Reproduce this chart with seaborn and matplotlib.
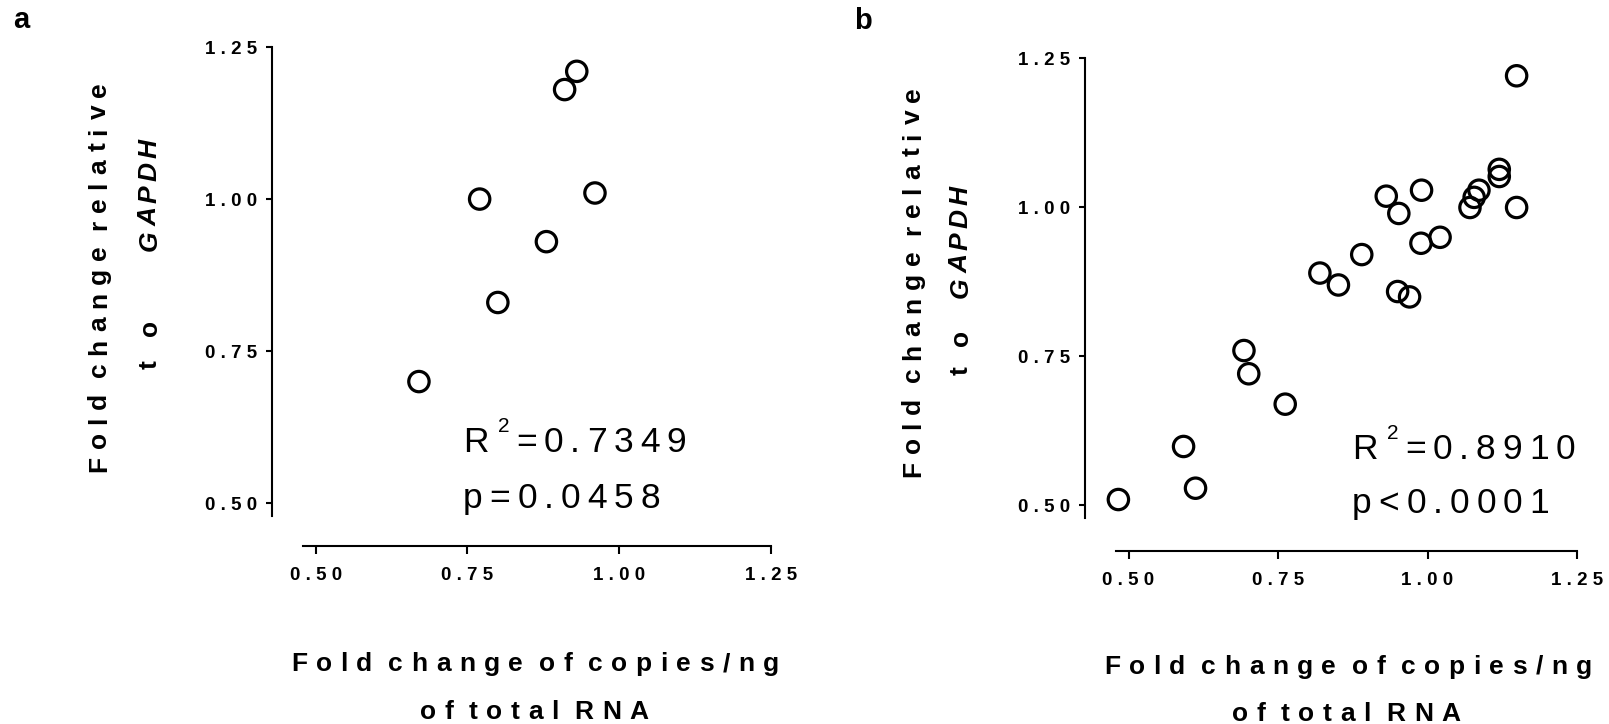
import matplotlib
matplotlib.use("Agg")
import matplotlib.pyplot as plt
import seaborn as sns
import pandas as pd
from matplotlib.font_manager import FontProperties, findfont, get_font

try:
    from matplotlib.ft2font import LoadFlags
    NOHINT = LoadFlags.NO_HINTING
except Exception:
    NOHINT = 2

# ---------------- data ----------------
a_copies = [0.93, 0.91, 0.77, 0.96, 0.88, 0.80, 0.67]
a_gapdh = [1.21, 1.18, 1.00, 1.01, 0.93, 0.83, 0.70]

b_copies = [1.149, 1.120, 1.120, 1.086, 1.078, 1.071, 1.149, 0.990, 0.931, 0.952,
            1.021, 0.989, 0.890, 0.820, 0.851, 0.950, 0.970, 0.693, 0.701, 0.762,
            0.592, 0.612, 0.483]
b_gapdh = [1.221, 1.064, 1.052, 1.029, 1.017, 1.000, 1.000, 1.029, 1.019, 0.990,
           0.950, 0.940, 0.921, 0.890, 0.870, 0.859, 0.850, 0.760, 0.721, 0.670,
           0.599, 0.529, 0.510]

tick_values = [0.50, 0.75, 1.00, 1.25]
tick_labels = ["0.50", "0.75", "1.00", "1.25"]

a_r2 = "=0.7349"
a_p = "p=0.0458"
b_r2 = "=0.8910"
b_p = "p<0.0001"

xlab1 = "Fold change of copies/ng"
xlab2 = "of total RNA"
ylab1 = "Fold change relative"
ylab_to = "to"
gene = "GAPDH"

# ---------------- style ----------------
sns.set_style("ticks")
plt.rcParams["font.family"] = ["Liberation Sans", "DejaVu Sans"]
for k in ["text.color", "axes.labelcolor", "xtick.color", "ytick.color", "axes.edgecolor"]:
    plt.rcParams[k] = "black"

W, H = 1609, 724
fig = plt.figure(figsize=(W / 100, H / 100), dpi=100)
fig.patch.set_facecolor("white")

FAM = ["Liberation Sans", "DejaVu Sans"]
LAB_SIZE = 19
lab_bold = FontProperties(family=FAM, weight="bold", size=LAB_SIZE)
lab_bi = FontProperties(family=FAM, weight="bold", style="italic", size=LAB_SIZE)
stat_fp = FontProperties(family=FAM, weight="normal", size=25.5)
sup_fp = FontProperties(family=FAM, weight="normal", size=15)
panel_fp = FontProperties(family=FAM, weight="bold", size=21)


def adv_px(ch, prop):
    font = get_font(findfont(prop))
    font.set_size(prop.get_size_in_points(), 100)
    g = font.load_char(ord(ch), flags=NOHINT)
    return g.linearHoriAdvance / 65536.0


def chars_of(s, prop):
    return [(c, prop) for c in s]


def track_for(chars, span):
    advs = [adv_px(c, p) for c, p in chars]
    gaps = sum(1 for i in range(len(chars) - 1) if chars[i][0] != " ")
    return (span - sum(advs)) / gaps


def run(chars, start, cross, track, vertical=False):
    pos = 0.0
    for c, p in chars:
        a = adv_px(c, p)
        if c != " ":
            if vertical:
                x, y = cross, start - pos
                rot = 90
            else:
                x, y = start + pos, cross
                rot = 0
            fig.text(x / W, 1 - y / H, c, fontproperties=p, rotation=rot,
                     rotation_mode="anchor", ha="left", va="baseline", color="black")
            pos += a + track
        else:
            pos += a
    return pos


def run_span(chars, start, end, cross, vertical=False):
    t = track_for(chars, abs(end - start))
    run(chars, start, cross, t, vertical)


def run_centered(chars, center, cross, track):
    advs = [adv_px(c, p) for c, p in chars]
    gaps = sum(1 for i in range(len(chars) - 1) if chars[i][0] != " ")
    total = sum(advs) + gaps * track
    run(chars, center - total / 2, cross, track)


def make_ax(left, top, right, bottom):
    return fig.add_axes([left / W, 1 - bottom / H, (right - left) / W, (bottom - top) / H])


def spaced(s, sep=" "):
    return sep.join(list(s))


def setup(ax, x, y, off_l, off_b):
    df = pd.DataFrame({"x": x, "y": y})
    sns.scatterplot(data=df, x="x", y="y", ax=ax, marker="o", s=215,
                    facecolors="none", edgecolor="black", linewidth=2.3,
                    clip_on=False, legend=False, zorder=3)
    for coll in ax.collections:
        coll.set_facecolor("none")
    ax.set_xlim(0.479, 1.25)
    ax.set_ylim(0.479, 1.25)
    ax.patch.set_alpha(0)
    for s in ["top", "right"]:
        ax.spines[s].set_visible(False)
    ax.spines["left"].set_position(("outward", off_l))
    ax.spines["bottom"].set_position(("outward", off_b))
    for s in ["left", "bottom"]:
        ax.spines[s].set_linewidth(1.5)
        ax.spines[s].set_color("black")
    ax.set_xticks(tick_values)
    ax.set_yticks(tick_values)
    ax.set_xticklabels([spaced(t) for t in tick_labels])
    ax.set_yticklabels([spaced(t) for t in tick_labels])
    ax.tick_params(axis="y", length=4, width=1.5, pad=7, labelsize=13.5, colors="black")
    ax.tick_params(axis="x", length=5.5, width=1.5, pad=10, labelsize=13.5, colors="black")
    for lbl in ax.get_xticklabels() + ax.get_yticklabels():
        lbl.set_fontweight("bold")
        lbl.set_family(FAM)
    ax.set_xlabel("")
    ax.set_ylabel("")


ax_a = make_ax(303, 47, 771, 516)
ax_b = make_ax(1116, 58.5, 1577, 518)
setup(ax_a, a_copies, a_gapdh, 22, 21.5)
setup(ax_b, b_copies, b_gapdh, 22.3, 23.5)

# label tracking from x-label first line
c_x1 = chars_of(xlab1, lab_bold)
T = track_for(c_x1, 488)

# panel a labels
run(c_x1, 291, 671, T)
run_centered(chars_of(xlab2, lab_bold), 534, 719, T)
run_span(chars_of(ylab1, lab_bold), 472, 82, 106, vertical=True)
run_span(chars_of(ylab_to, lab_bold), 369, 320, 157, vertical=True)
run_span(chars_of(gene, lab_bi), 251, 139, 157, vertical=True)

# panel b labels
run(chars_of(xlab1, lab_bold), 1104, 674, T)
run_centered(chars_of(xlab2, lab_bold), 1346, 721, T)
run_span(chars_of(ylab1, lab_bold), 477, 87, 920, vertical=True)
run_span(chars_of(ylab_to, lab_bold), 375, 330, 968, vertical=True)
run_span(chars_of(gene, lab_bi), 298, 186, 968, vertical=True)

# stats text
c_pa = chars_of(a_p, stat_fp)
TS = track_for(c_pa, 197)


def stats(x0, base1, base2, r2, ptxt):
    run(chars_of("R", stat_fp), x0, base1, TS)
    fig.text((x0 + 35) / W, 1 - (base1 - 20) / H, "2", fontproperties=sup_fp,
             ha="left", va="baseline", color="black")
    run(chars_of(r2, stat_fp), x0 + 53, base1, TS)
    run(chars_of(ptxt, stat_fp), x0, base2, TS)


stats(463, 452, 508, a_r2, a_p)
stats(1352, 459, 513, b_r2, b_p)

# panel letters
fig.text(13 / W, 1 - 28 / H, "a", fontproperties=panel_fp, ha="left", va="baseline")
fig.text(854 / W, 1 - 29 / H, "b", fontproperties=panel_fp, ha="left", va="baseline")

fig.savefig("out.png", dpi=100, facecolor="white")
